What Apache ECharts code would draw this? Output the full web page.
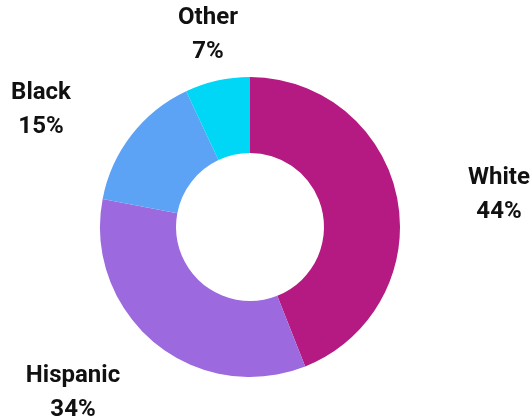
<!DOCTYPE html>
<html>
<head>
<meta charset="utf-8">
<script src="https://cdn.jsdelivr.net/npm/echarts@6/dist/echarts.min.js"></script>
<style>
  html, body { margin: 0; padding: 0; background: #ffffff; }
  #chart { width: 531px; height: 419px; }
</style>
</head>
<body>
<div id="chart"></div>
<script>
// Share of population by group
const groups = ['White', 'Hispanic', 'Black', 'Other'];
const shares = [44, 34, 15, 7];
const colors = ['#b41a82', '#9c6ade', '#5ca3f6', '#00d7f7'];

// Where each two-line label block is centred
const labelSpots = {
  White: [499, 195],
  Hispanic: [73, 393],
  Black: [41, 110],
  Other: [208, 35]
};

const chart = echarts.init(document.getElementById('chart'), null, { renderer: 'canvas' });

chart.setOption({
  backgroundColor: '#ffffff',
  animation: false,
  series: [{
    type: 'pie',
    center: [250, 227],
    radius: [74, 150],
    startAngle: 90,
    clockwise: true,
    avoidLabelOverlap: false,
    itemStyle: { borderWidth: 0 },
    label: {
      show: true,
      position: 'outside',
      formatter: '{b}\n{d}%',
      fontFamily: 'Roboto',
      fontWeight: 'bold',
      fontSize: 24,
      lineHeight: 34,
      color: '#111111',
      align: 'center'
    },
    labelLine: { show: false },
    labelLayout: function (params) {
      const name = groups[params.dataIndex];
      const p = labelSpots[name];
      return { x: p[0], y: p[1], align: 'center', verticalAlign: 'middle' };
    },
    emphasis: { disabled: true },
    data: groups.map((g, i) => ({
      name: g,
      value: shares[i],
      itemStyle: { color: colors[i] }
    }))
  }]
});
</script>
</body>
</html>
